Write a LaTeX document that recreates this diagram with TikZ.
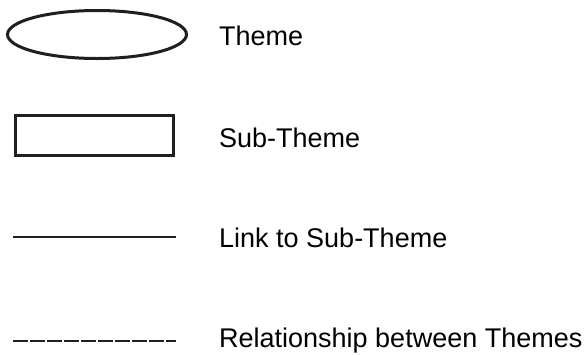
\documentclass[tikz,border=0pt]{standalone}
\usepackage{fontspec}
\setmainfont{Liberation Sans}
\usetikzlibrary{shapes.geometric}
\begin{document}
\begin{tikzpicture}[x=1pt,y=-1pt,
  symbol/.style={draw=black!88,line width=3pt,fill=white,inner sep=0pt},
  themeshape/.style={symbol,ellipse,minimum width=179pt,minimum height=48pt},
  subshape/.style={symbol,rectangle,minimum width=158pt,minimum height=40pt},
  legendtext/.style={anchor=base west,inner sep=0pt,font=\fontsize{27}{30}\selectfont},
  linksample/.style={draw=black!88,line width=2.6pt},
  relsample/.style={linksample,dash pattern=on 14.5pt off 2.5pt}]
  \useasboundingbox (0,0) rectangle (584,354);

  % symbols
  \node[themeshape] (theme) at (97,34.5) {};
  \node[subshape] (sub) at (94.5,135.5) {};
  \coordinate (linkA) at (13,237);
  \coordinate (linkB) at (176,237);
  \draw[linksample] (linkA) -- (linkB);
  \coordinate (relA) at (13,341);
  \coordinate (relB) at (176,341);
  \draw[relsample] (relA) -- (relB);

  % descriptions
  \node[legendtext] (themeL) at (219,45) {Theme};
  \node[legendtext] (subL) at (219,147.5) {Sub-Theme};
  \node[legendtext] (linkL) at (219,247) {Link to Sub-Theme};
  \node[legendtext] (relL) at (219,347.5) {Relationship between Themes};
\end{tikzpicture}
\end{document}
